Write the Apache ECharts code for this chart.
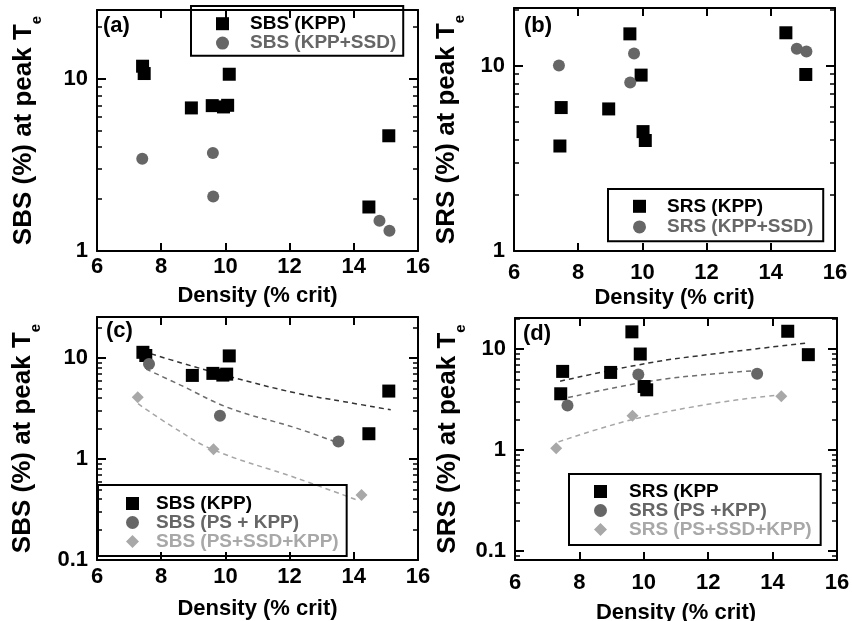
<!DOCTYPE html>
<html><head><meta charset="utf-8">
<script src="https://cdn.jsdelivr.net/npm/echarts@6/dist/echarts.min.js"></script>
<style>html,body{margin:0;padding:0;background:#fff}#wrap{position:relative;width:852px;height:621px}
.layer{position:absolute;left:0;top:0;width:852px;height:621px}</style>
</head><body><div id="wrap"></div>
<script>
// ---------- data ----------
const xTicks = [6, 8, 10, 12, 14, 16];

// (a) SBS
const aKppX = [7.42, 7.47, 8.94, 9.59, 9.94, 10.07, 10.12, 15.09, 14.47];
const aKppY = [11.8, 10.7, 6.76, 6.97, 6.85, 7.0, 10.6, 4.66, 1.80];
const aSsdX = [7.41, 9.61, 9.62, 14.80, 15.11];
const aSsdY = [3.43, 3.70, 2.07, 1.50, 1.31];

// (b) SRS
const bKppX = [9.61, 14.47, 9.96, 15.09, 7.47, 8.95, 10.02, 10.09, 7.43];
const bKppY = [14.8, 15.0, 8.87, 8.94, 5.93, 5.83, 4.40, 3.94, 3.68];
const bSsdX = [7.40, 9.74, 9.62, 14.81, 15.11];
const bSsdY = [10.0, 11.6, 8.09, 12.3, 11.9];

// (c) SBS
const cKppX = [7.43, 7.52, 8.97, 9.61, 9.92, 10.04, 10.12, 15.09, 14.47];
const cKppY = [11.4, 10.6, 6.73, 7.05, 6.78, 6.93, 10.5, 4.71, 1.78];
const cPsX = [7.62, 9.83, 13.52];
const cPsY = [8.71, 2.68, 1.49];
const cPssdX = [7.27, 9.63, 14.24];
const cPssdY = [4.10, 1.25, 0.44];
const cFitKppX = [7.69, 8.6, 10.12, 12.2, 13.7, 15.15];
const cFitKppY = [11.0, 9.0, 6.58, 4.5, 3.7, 3.07];
const cFitPsX = [7.53, 8.6, 10.12, 12.2, 13.5];
const cFitPsY = [7.78, 5.4, 3.2, 2.03, 1.45];
const cFitPssdX = [7.28, 8.3, 9.61, 12.2, 14.08];
const cFitPssdY = [3.53, 2.14, 1.24, 0.65, 0.395];

// (d) SRS
const dKppX = [9.63, 14.47, 9.89, 15.11, 7.48, 8.97, 10.01, 10.09, 7.42];
const dKppY = [14.8, 15.0, 8.92, 8.79, 6.0, 5.86, 4.25, 3.94, 3.60];
const dPsX = [7.63, 9.83, 13.52];
const dPsY = [2.75, 5.60, 5.69];
const dPssdX = [7.28, 9.65, 14.27];
const dPssdY = [1.04, 2.18, 3.41];
const dFitKppX = [7.4, 10.14, 12.22, 15.12];
const dFitKppY = [4.8, 7.26, 8.98, 11.5];
const dFitPsX = [7.65, 10.14, 12.22, 13.5];
const dFitPsY = [3.3, 4.77, 5.69, 6.1];
const dFitPssdX = [7.35, 9.62, 12.22, 14.2];
const dFitPssdY = [1.2, 1.99, 2.91, 3.5];

// ---------- styling ----------
const FONT = 'Liberation Sans, Arial, Helvetica, sans-serif';
const BLACK = '#000000', GRAY = '#666666', LIGHT = '#a8a8a8';
const pairs = (xs, ys) => xs.map((x, i) => [x, ys[i]]);

function scatter(name, xs, ys, symbol, size, color) {
  return {type:'scatter', name:name, symbol:symbol, symbolSize:size,
    itemStyle:{color:color, opacity:1}, data:pairs(xs, ys), z:5, silent:true};
}
function fit(name, xs, ys, color) {
  return {type:'line', name:name, data:pairs(xs, ys), smooth:0.4,
    showSymbol:false, silent:true, z:3, lineStyle:{color:color, width:1.5, type:[5, 4]}};
}
function legend(left, top, padding, textPad, lineHeight, items) {
  return {orient:'vertical', left:left, top:top, padding:padding, itemGap:0,
    itemWidth:13, itemHeight:13, selectedMode:false, borderColor:BLACK, borderWidth:2,
    textStyle:{fontSize:19, fontWeight:'bold', fontFamily:FONT, lineHeight:lineHeight, padding:[0,0,0,textPad]},
    data:items.map(it => ({name:it[0], icon:it[1], textStyle:{color:it[2]}}))};
}

const panels = [
  {grid:{left:97, top:10, width:321, height:241}, ymin:1, ymax:25, showMin:true,
   yname:'SBS (%) at peak T', yGap:53, xLabelMargin:5, xGap:34, label:'(a)', lx:103, ly:28,
   series:[scatter('SBS (KPP)', aKppX, aKppY, 'rect', 13, BLACK),
           scatter('SBS (KPP+SSD)', aSsdX, aSsdY, 'circle', 12, GRAY)],
   legend:legend(191, 6, [8, 7, 3, 25], 16, 19.4, [['SBS (KPP)', 'rect', BLACK], ['SBS (KPP+SSD)', 'circle', GRAY]])},
  {grid:{left:514, top:8, width:321, height:243}, ymin:1, ymax:20.4, showMin:true,
   yname:'SRS (%) at peak T', yGap:47, xLabelMargin:11, xGap:36, label:'(b)', lx:524, ly:28,
   series:[scatter('SRS (KPP)', bKppX, bKppY, 'rect', 13, BLACK),
           scatter('SRS (KPP+SSD)', bSsdX, bSsdY, 'circle', 12, GRAY)],
   legend:legend(608, 189, [7, 10, 4, 25], 16, 20.6, [['SRS (KPP)', 'rect', BLACK], ['SRS (KPP+SSD)', 'circle', GRAY]])},
  {grid:{left:97, top:317, width:321, height:243}, ymin:0.1, ymax:25.5, showMin:true,
   yname:'SBS (%) at peak T', yGap:54, xLabelMargin:6, xGap:38, label:'(c)', lx:106, ly:333,
   series:[fit('c fit KPP', cFitKppX, cFitKppY, '#333333'),
           fit('c fit PS', cFitPsX, cFitPsY, '#6e6e6e'),
           fit('c fit PSSSD', cFitPssdX, cFitPssdY, '#a6a6a6'),
           scatter('SBS (KPP)', cKppX, cKppY, 'rect', 13, BLACK),
           scatter('SBS (PS + KPP)', cPsX, cPsY, 'circle', 12, GRAY),
           scatter('SBS (PS+SSD+KPP)', cPssdX, cPssdY, 'diamond', 12, LIGHT)],
   legend:legend(98, 485, [9, 8, 5, 28], 12, 18, [['SBS (KPP)', 'rect', BLACK], ['SBS (PS + KPP)', 'circle', GRAY], ['SBS (PS+SSD+KPP)', 'diamond', LIGHT]])},
  {grid:{left:515, top:318, width:322, height:242}, ymin:0.081, ymax:20.3, showMin:false,
   yname:'SRS (%) at peak T', yGap:47, xLabelMargin:12, xGap:42, label:'(d)', lx:523, ly:336,
   series:[fit('d fit KPP', dFitKppX, dFitKppY, '#333333'),
           fit('d fit PS', dFitPsX, dFitPsY, '#6e6e6e'),
           fit('d fit PSSSD', dFitPssdX, dFitPssdY, '#a6a6a6'),
           scatter('SRS (KPP', dKppX, dKppY, 'rect', 13, BLACK),
           scatter('SRS (PS +KPP)', dPsX, dPsY, 'circle', 12, GRAY),
           scatter('SRS (PS+SSD+KPP)', dPssdX, dPssdY, 'diamond', 12, LIGHT)],
   legend:legend(569, 474, [8, 9, 6, 25], 17, 18.7, [['SRS (KPP', 'rect', BLACK], ['SRS (PS +KPP)', 'circle', GRAY], ['SRS (PS+SSD+KPP)', 'diamond', LIGHT]])}
];

function yFmt(v) {
  if (v >= 1) return String(Math.round(v));
  return String(Number(v.toPrecision(1)));
}

const wrap = document.getElementById('wrap');
panels.forEach((p, k) => {
  const div = document.createElement('div');
  div.className = 'layer';
  wrap.appendChild(div);
  const axLine = () => ({show:true, lineStyle:{color:BLACK, width:2}});
  const tick = (len) => ({show:true, inside:true, length:len, lineStyle:{width:2, color:BLACK}});
  const minor = () => ({show:true, splitNumber:9, length:5, lineStyle:{width:1.5, color:BLACK}});
  const option = {
    animation:false,
    grid:[{left:p.grid.left, top:p.grid.top, width:p.grid.width, height:p.grid.height, outerBoundsMode:'none'}],
    xAxis:[
      {gridIndex:0, type:'value', min:6, max:16, interval:2, position:'bottom',
       axisLine:axLine(), axisTick:tick(8), splitLine:{show:false},
       axisLabel:{margin:p.xLabelMargin, fontSize:22, fontWeight:'bold', color:BLACK, fontFamily:FONT},
       name:'Density (% crit)', nameLocation:'middle', nameGap:p.xGap,
       nameTextStyle:{fontSize:22, fontWeight:'bold', color:BLACK, fontFamily:FONT}},
      {gridIndex:0, type:'value', min:6, max:16, interval:2, position:'top',
       axisLine:axLine(), axisTick:tick(8), splitLine:{show:false}, axisLabel:{show:false}}
    ],
    yAxis:[
      {gridIndex:0, type:'log', logBase:10, min:p.ymin, max:p.ymax, position:'left',
       axisLine:axLine(), axisTick:tick(9), minorTick:minor(), splitLine:{show:false}, minorSplitLine:{show:false},
       axisLabel:{margin:9, fontSize:22, fontWeight:'bold', color:BLACK, fontFamily:FONT,
         formatter:yFmt, showMinLabel:p.showMin, showMaxLabel:false},
       name:'{m|' + p.yname + '}{s|e}', nameLocation:'middle', nameRotate:90, nameGap:p.yGap,
       nameTextStyle:{rich:{
         m:{fontSize:26, fontWeight:'bold', color:BLACK, fontFamily:FONT, lineHeight:27},
         s:{fontSize:15, fontWeight:'bold', color:BLACK, fontFamily:FONT, padding:[25,0,0,0]}
       }}},
      {gridIndex:0, type:'log', logBase:10, min:p.ymin, max:p.ymax, position:'right',
       axisLine:axLine(), axisTick:tick(9), minorTick:minor(), splitLine:{show:false}, minorSplitLine:{show:false},
       axisLabel:{show:false}}
    ],
    legend:[p.legend],
    graphic:[{type:'text', left:p.lx, top:p.ly - 13, z:10,
      style:{text:p.label, font:'bold 22px ' + FONT, fill:BLACK}}],
    series:p.series.map(s => Object.assign({xAxisIndex:0, yAxisIndex:0}, s))
  };
  const chart = echarts.init(div, null, {renderer:'canvas', width:852, height:621});
  chart.setOption(option);
});
</script>
</body></html>
